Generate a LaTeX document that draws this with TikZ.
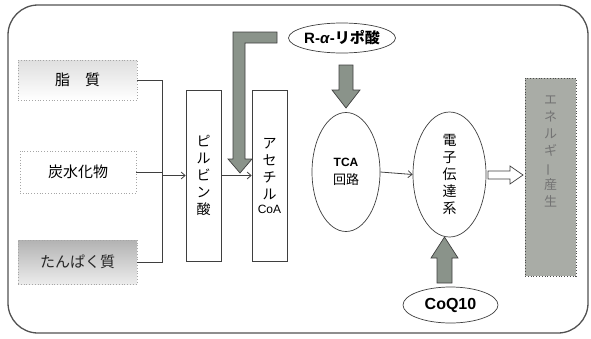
\documentclass[tikz,border=0pt]{standalone}
\usepackage{fontspec}
\setmainfont{Liberation Sans}
\newfontfamily\jp{Noto Sans CJK JP}
\usetikzlibrary{shapes.geometric,arrows.meta}
\definecolor{arrowgray}{HTML}{8A938A}
\definecolor{edgedark}{HTML}{3F3F3F}
\definecolor{energygray}{HTML}{A9ACA6}
\tikzset{
  srcbox/.style={draw=gray!70, dotted, line width=0.8pt, inner sep=0pt, font=\jp\fontsize{15}{18}\selectfont},
  colbox/.style={draw=edgedark, line width=0.7pt, fill=white, inner sep=0pt, minimum width=35pt, minimum height=171pt, align=center, font=\jp\fontsize{14}{17}\selectfont},
  oval/.style={ellipse, draw=edgedark, line width=0.7pt, fill=white, inner sep=0pt, align=center},
  link/.style={draw=edgedark, line width=0.8pt},
  arr/.style={link, -{Straight Barb[length=4pt,width=7pt]}},
  fatarrow/.style={fill=arrowgray, draw=edgedark, line width=0.7pt},
}
\begin{document}
\begin{tikzpicture}[x=1pt,y=-1pt]
\useasboundingbox (0,0) rectangle (591,338);
\draw[draw=edgedark!90, line width=1.3pt, rounded corners=30pt] (8,5) rectangle (588,333);

% sources
\node[srcbox, top color=gray!25, bottom color=white, minimum width=119pt, minimum height=40pt] (fat) at (77.5,80) {脂\quad 質};
\node[srcbox, fill=white, minimum width=116pt, minimum height=42pt] (carb) at (78,172) {炭水化物};
\node[srcbox, top color=gray!60, bottom color=gray!15, minimum width=119pt, minimum height=44pt, text=black!85] (prot) at (77.5,262) {たんぱく質};

\coordinate (j) at (162,175.5);
\node[colbox] (pyr) at (203.5,175.5) {ピ\\ル\\ビ\\ン\\酸};
\node[colbox] (acoa) at (269.5,175.5) {ア\\セ\\チ\\ル\\[-3pt]{\rmfamily\fontsize{12}{13}\selectfont CoA}};

\draw[link] (fat.east) -- (fat.east -| j) -- (prot.east -| j) -- (prot.east);
\draw[link] (carb.east) -- (carb.east -| j);
\draw[arr] (j |- pyr.west) -- (pyr.west);
\draw[arr] (pyr.east) -- (acoa.west);

% ellipses
\node[oval, minimum width=101pt, minimum height=30pt, font=\bfseries\fontsize{15}{17}\selectfont] (lipo) at (342,38) {R-\textit{α}-{\jp リポ酸}};
\node[oval, minimum width=68pt, minimum height=119pt, font=\fontsize{12}{18}\selectfont] (tca) at (346,172) {\bfseries TCA\\{\jp\fontsize{13}{15}\selectfont 回路}};
\node[oval, minimum width=73pt, minimum height=125pt, font=\jp\fontsize{14}{17}\selectfont] (etc) at (449.5,174.5) {電\\子\\伝\\達\\系};
\node[oval, minimum width=95pt, minimum height=36pt, font=\bfseries\fontsize{16}{18}\selectfont] (coq) at (450.5,305) {CoQ10};
\node[draw=gray!60!black, dotted, line width=0.8pt, fill=energygray, minimum width=51pt, minimum height=198pt, inner sep=0pt, align=center, text=black!55, font=\jp\fontsize{13}{17}\selectfont] (ene) at (550.5,177) {エ\\ネ\\ル\\ギ\\\rotatebox[origin=c]{90}{ー}\\産\\生\\\mbox{}\\\mbox{}\\\mbox{}};

\draw[arr] (tca.east) -- (etc.west);

% fat gray arrows
\draw[fatarrow] (277,32) -- (233,32) -- (233,159) -- (228,159) -- (240,173) -- (252,159) -- (245,159) -- (245,43) -- (277,43) -- cycle;
\draw[fatarrow] (339,65) -- (353,65) -- (353,90) -- (360,90) -- (346,108) -- (332,90) -- (339,90) -- cycle;
\draw[fatarrow] (437,283) -- (452,283) -- (452,258) -- (458,258) -- (444.5,237) -- (431,258) -- (437,258) -- cycle;
% hollow arrow
\draw[fill=white, draw=edgedark, line width=0.7pt] (488,171) -- (510,171) -- (510,166) -- (523,175) -- (510,184) -- (510,179) -- (488,179) -- cycle;
\end{tikzpicture}
\end{document}
